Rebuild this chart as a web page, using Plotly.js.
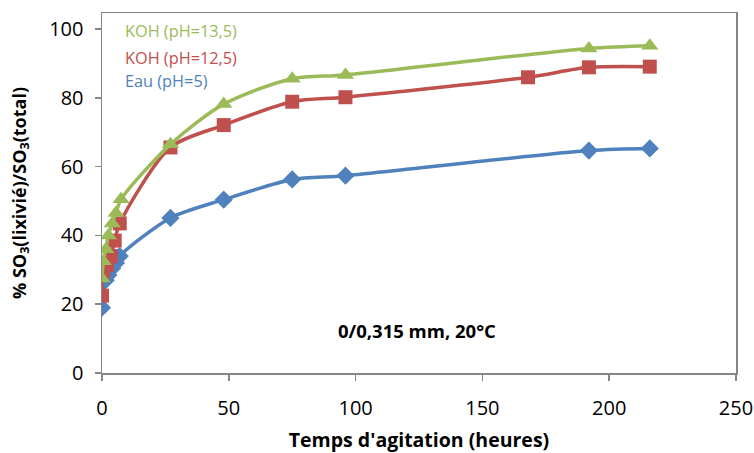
<!DOCTYPE html>
<html>
<head>
<meta charset="utf-8">
<script src="https://cdn.plot.ly/plotly-3.0.1.min.js"></script>
<style>html,body{margin:0;padding:0;background:#fff;}#chart{width:754px;height:453px;}</style>
</head>
<body>
<div id="chart"></div>
<script>
// Data
const seriesNames = ["KOH (pH=13,5)", "KOH (pH=12,5)", "Eau (pH=5)"];
const timeKOH135 = [0, 0.5, 1.5, 2.5, 4, 5.5, 7.5, 27, 48, 75, 96, 192, 216];
const valKOH135  = [27.5, 32.5, 36, 40, 43.5, 46.5, 50.5, 66.5, 78.2, 85.6, 86.7, 94.4, 95.2];
const timeKOH125 = [0, 0.5, 2, 3.5, 5, 7, 27, 48, 75, 96, 168, 192, 216];
const valKOH125  = [22.5, 29.5, 31.5, 34, 38.5, 43.5, 65.6, 72.1, 78.9, 80.2, 86.0, 88.9, 89.1];
const timeEau    = [0, 1.5, 2.5, 4, 5.5, 7, 27, 48, 75, 96, 192, 216];
const valEau     = [19, 27, 28.5, 30.5, 32, 34, 45.1, 50.4, 56.3, 57.4, 64.7, 65.3];
const xTicks = [0, 50, 100, 150, 200, 250];
const yTicks = [0, 20, 40, 60, 80, 100];

const colors = ["#9BBB59", "#C0504D", "#4F81BD"];
const symbols = ["triangle-up", "square", "diamond"];
const sizes = [15, 14, 14];
const xs = [timeKOH135, timeKOH125, timeEau];
const ys = [valKOH135, valKOH125, valEau];

// draw in reverse so green is on top like reference
const traces = [2, 1, 0].map(i => ({
  type: "scatter",
  mode: "lines+markers",
  name: seriesNames[i],
  x: xs[i],
  y: ys[i],
  line: {color: colors[i], width: 3.5, shape: "spline", smoothing: 0.8},
  marker: {color: colors[i], symbol: symbols[i], size: sizes[i]},
  showlegend: false
}));

const legendY = [0.95, 0.876, 0.81];
const annotations = seriesNames.map((n, i) => ({
  xref: "paper", yref: "paper", x: 0.033, y: legendY[i],
  xanchor: "left", yanchor: "middle", showarrow: false,
  text: n, font: {family: "Open Sans, sans-serif", size: 16.3, color: colors[i]}
}));
annotations.push({
  xref: "paper", yref: "paper", x: 0.497, y: 0.118,
  xanchor: "center", yanchor: "middle", showarrow: false,
  text: "<b>0/0,315 mm, 20°C</b>",
  font: {family: "Open Sans, sans-serif", size: 18.5, color: "#000"}
});

const layout = {
  width: 754, height: 453,
  margin: {l: 102, r: 18, t: 13, b: 80},
  paper_bgcolor: "#fff", plot_bgcolor: "#fff",
  font: {family: "Open Sans, sans-serif", color: "#000"},
  xaxis: {
    range: [0, 250], tickvals: xTicks, ticktext: xTicks.map(String),
    showgrid: false, zeroline: false,
    showline: true, mirror: true, linecolor: "#868686", linewidth: 1.5,
    ticks: "outside", ticklen: 6, tickcolor: "#868686", tickwidth: 1.5,
    ticklabelstandoff: 10,
    tickfont: {size: 20, color: "#000"},
    title: {text: "<b>Temps d'agitation (heures)</b>", font: {size: 19.5, color: "#000"}, standoff: 14}
  },
  yaxis: {
    range: [0, 104.7], tickvals: yTicks, ticktext: yTicks.map(String),
    showgrid: false, zeroline: false,
    showline: true, mirror: true, linecolor: "#868686", linewidth: 1.5,
    ticks: "outside", ticklen: 6, tickcolor: "#868686", tickwidth: 1.5,
    ticklabelstandoff: 7,
    tickfont: {size: 20, color: "#000"},
    title: {text: "<b>% SO<sub>3</sub>(lixivié)/SO<sub>3</sub>(total)</b>", font: {size: 18, color: "#000"}, standoff: 18}
  },
  annotations: annotations
};

Plotly.newPlot("chart", traces, layout, {displayModeBar: false, staticPlot: true});
</script>
</body>
</html>
